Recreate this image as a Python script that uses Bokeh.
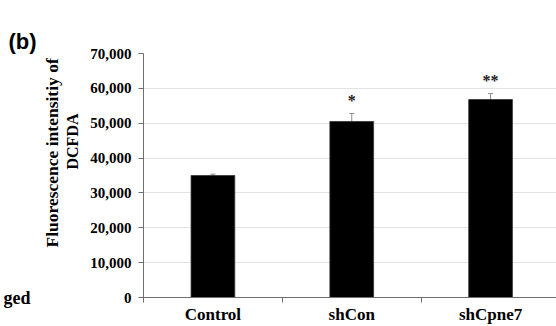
from bokeh.plotting import figure
from bokeh.models import (ColumnDataSource, Range1d, FixedTicker, NumeralTickFormatter,
                          Whisker, Title, LinearAxis)
from bokeh.embed import file_html
from bokeh.resources import INLINE

categories = ["Control", "shCon", "shCpne7"]
values = [35000, 50500, 56800]
errors = [400, 2300, 1700]
stars = ["", "*", "**"]
y_ticks = [0, 10000, 20000, 30000, 40000, 50000, 60000, 70000]
y_title = ["Fluorescence intensitiy of", "DCFDA"]
panel_letter = "(b)"
neighbour_fragment = "ged"

NBSP = "\u00a0"

xs = [i + 0.5 for i in range(len(categories))]
src = ColumnDataSource(dict(
    x=xs, top=values,
    upper=[v + e for v, e in zip(values, errors)],
    lower=[v - e for v, e in zip(values, errors)],
    star=stars,
))

SERIF = "Liberation Serif"
AXIS_COL = "#6e6e6e"

p = figure(width=556, height=326, output_backend="svg", toolbar_location=None,
           x_range=Range1d(0, 2.975), y_range=Range1d(0, 70000),
           min_border_left=141, min_border_right=0, min_border_top=53,
           min_border_bottom=28)
p.outline_line_color = None
p.background_fill_color = "white"
p.border_fill_color = "white"

# spacer title next to the frame, the panel letter above it
p.title.text = NBSP
p.title.text_font_size = "1px"
p.title.standoff = 5
letter = Title(text=panel_letter, align="left", offset=-135, standoff=0,
               text_font="Liberation Sans", text_font_style="bold",
               text_font_size="22px", text_color="black")
p.add_layout(letter, "above")

p.vbar(x="x", top="top", width=0.315, source=src, fill_color="black",
       line_color="#333333", line_width=0.8)

w = Whisker(base="x", upper="upper", lower="lower", source=src,
            line_color="#8c8c8c", line_width=1)
w.upper_head.size = 5
w.lower_head.size = 5
w.upper_head.line_color = "#8c8c8c"
w.lower_head.line_color = "#8c8c8c"
p.add_layout(w)

p.text(x="x", y="upper", text="star", source=src, text_align="center",
       text_baseline="middle", y_offset=-13, text_font=SERIF,
       text_font_size="16px", text_font_style="bold", text_color="#222222")

# y axis
yax = p.yaxis[0]
yax.ticker = FixedTicker(ticks=y_ticks)
yax.formatter = NumeralTickFormatter(format="0,0")
yax.major_label_text_font = SERIF
yax.major_label_text_font_style = "bold"
yax.major_label_text_font_size = "15px"
yax.major_label_text_color = "black"
yax.major_label_standoff = 7
yax.major_tick_out = 5
yax.major_tick_in = 0
yax.minor_tick_line_color = None
yax.axis_line_color = AXIS_COL
yax.major_tick_line_color = AXIS_COL
yax.axis_label = NBSP
yax.axis_label_text_font_size = "1px"
yax.axis_label_standoff = 3

# x axis: labels at centres, ticks at boundaries
xax = p.xaxis[0]
xax.ticker = FixedTicker(ticks=xs, minor_ticks=list(range(len(categories) + 1)))
xax.major_label_overrides = {x: c for x, c in zip(xs, categories)}
xax.major_label_text_font = SERIF
xax.major_label_text_font_style = "bold"
xax.major_label_text_font_size = "17px"
xax.major_label_text_color = "black"
xax.major_label_standoff = 1
xax.major_tick_line_color = None
xax.minor_tick_out = 5
xax.minor_tick_in = 0
xax.minor_tick_line_color = AXIS_COL
xax.axis_line_color = AXIS_COL

p.xgrid.grid_line_color = None
p.ygrid.ticker = FixedTicker(ticks=y_ticks)
p.ygrid.grid_line_color = "#e3e3e3"

# y-axis title, two lines, as titles in the left panel
for txt, off, fs in [(y_title[1], 128, "16px"), (y_title[0], 50, "17.5px")]:
    t = Title(text=txt, align="left", offset=off, standoff=0,
              text_font=SERIF, text_font_style="bold", text_font_size=fs,
              text_color="black")
    p.add_layout(t, "left")

# fragment of the neighbouring panel's text
frag = LinearAxis(ticker=FixedTicker(ticks=[0]),
                  major_label_overrides={0: neighbour_fragment},
                  axis_line_color=None, major_tick_line_color=None,
                  minor_tick_line_color=None, major_label_standoff=3,
                  major_label_text_font=SERIF, major_label_text_font_style="bold",
                  major_label_text_font_size="18px", major_label_text_color="black",
                  major_label_text_baseline="alphabetic")
p.add_layout(frag, "left")

open("out.html", "w").write(file_html(p, INLINE))
